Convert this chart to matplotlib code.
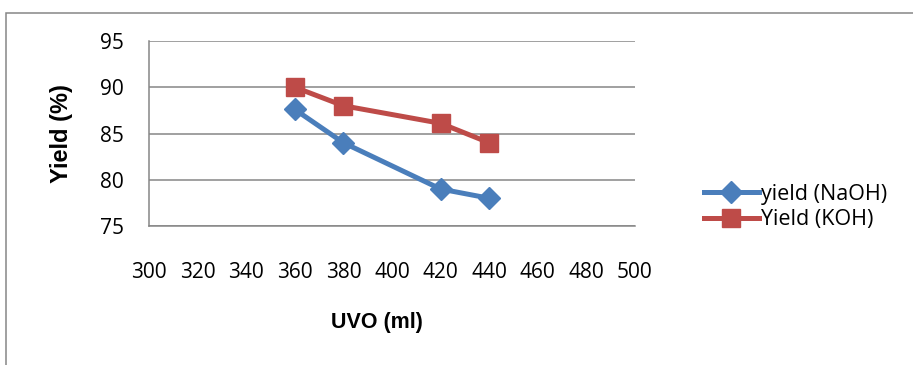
import matplotlib
matplotlib.use("Agg")
import matplotlib.pyplot as plt
from matplotlib.patches import Rectangle

# data
uvo = [360, 380, 420, 440]
yield_naoh = [87.6, 84.0, 79.0, 78.0]
yield_koh = [90.0, 88.0, 86.1, 84.0]
x_ticks = list(range(300, 501, 20))
y_ticks = [75, 80, 85, 90, 95]

C_NAOH = "#4A7EBB"
C_KOH = "#BE4B48"
GRID = "#868686"

plt.rcParams["font.family"] = ["Open Sans", "DejaVu Sans"]

fig = plt.figure(figsize=(9.13, 3.65), dpi=100)
ax = fig.add_axes([149 / 913, 1 - 226 / 365, 486 / 913, 185 / 365])

# outer chart border (only top and left edges are visible in the crop)
fig.patches.append(Rectangle((5.5 / 913, -0.2), 1.5, 1.2 - 12.5 / 365,
                             transform=fig.transFigure, fill=False,
                             edgecolor=GRID, lw=1.1))

ax.plot(uvo, yield_naoh, color=C_NAOH, lw=3.6, marker="D", ms=11.5,
        label="yield (NaOH)", zorder=3)
ax.plot(uvo, yield_koh, color=C_KOH, lw=3.6, marker="s", ms=13,
        label="Yield (KOH)", zorder=3)

ax.set_xlim(300, 500)
ax.set_ylim(75, 95)
ax.set_xticks(x_ticks)
ax.set_yticks(y_ticks)
ax.tick_params(axis="both", length=0, labelsize=15, colors="black")
ax.tick_params(axis="x", pad=26)
ax.tick_params(axis="y", pad=18)
ax.yaxis.grid(True, color=GRID, lw=1.1)
ax.set_axisbelow(True)
for s in ("top", "right"):
    ax.spines[s].set_visible(False)
for s in ("left", "bottom"):
    ax.spines[s].set_color(GRID)
    ax.spines[s].set_linewidth(1.1)

bold = dict(family=["Liberation Sans", "DejaVu Sans"], fontweight="bold")
ax.set_xlabel("UVO (ml)", fontsize=15.5, **bold)
ax.xaxis.set_label_coords((377 - 149) / 486, -(312 - 226) / 185)
ax.set_ylabel("Yield (%)", fontsize=17, **bold)
ax.yaxis.set_label_coords(-(149 - 73) / 486, 0.5)

fig.legend(loc="center left", bbox_to_anchor=(704 / 913, 1 - 207 / 365),
           frameon=False, fontsize=15.5, handlelength=2.55, handletextpad=0.12,
           labelspacing=0.2, borderaxespad=0, borderpad=0)

fig.savefig("out.png", dpi=100)
